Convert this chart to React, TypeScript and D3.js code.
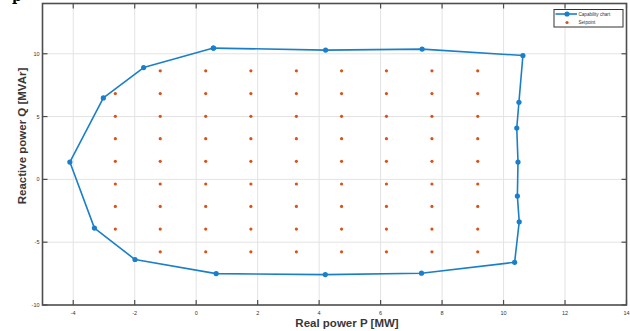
import React from "react";
import * as d3 from "d3";

// capability chart outline (P in MW, Q in MVAr), closed polygon
const capP = [0.56, 4.21, 7.35, 10.63, 10.5, 10.43, 10.47, 10.45, 10.51, 10.36, 7.33, 4.2, 0.65, -1.99, -3.31, -4.11, -3.02, -1.71, 0.56];
const capQ = [10.45, 10.29, 10.37, 9.86, 6.14, 4.09, 1.38, -1.33, -3.38, -6.6, -7.47, -7.58, -7.5, -6.38, -3.88, 1.38, 6.48, 8.9, 10.45];

// setpoint grid
const setpointP = [-2.63, -1.17, 0.31, 1.78, 3.26, 4.73, 6.19, 7.67, 9.16];
const setpointQ = [8.64, 6.83, 5.02, 3.24, 1.44, -0.37, -2.15, -3.96, -5.77];
const firstColumnQ = [6.83, 5.02, 3.24, 1.44, -0.37, -2.15, -3.96];

const xTicks = [-4, -2, 0, 2, 4, 6, 8, 10, 12, 14];
const yTicks = [-10, -5, 0, 5, 10];

const W = 630, H = 331;
const blue = "#1a7fca";
const orange = "#D95319";
const axisColor = "#4d4d4d";

export default function App() {
    const x = d3.scaleLinear().domain([-5, 14]).range([42.5, 626.5]);
    const y = d3.scaleLinear().domain([-10, 14]).range([305, 3.5]);

    const capData = capP.map((p, i) => ({ p, q: capQ[i] }));
    const line = d3.line<{ p: number, q: number }>()
        .x(d => x(d.p))
        .y(d => y(d.q));

    const setpoints: { p: number, q: number }[] = [];
    setpointP.forEach((p, i) => {
        const rows = i === 0 ? firstColumnQ : setpointQ;
        rows.forEach(q => setpoints.push({ p, q }));
    });

    const [x0, x1] = x.range();
    const [y0, y1] = y.range();
    const tickLen = 5;

    return (
        <svg width={W} height={H} style={{ position: "absolute", left: 0, top: 0, background: "#fff" }}
            fontFamily="Liberation Sans, Arial, sans-serif">
            <text x={12} y={1} fontSize={14} fontFamily="DejaVu Serif" fontWeight="bold">p</text>
            {/* grid */}
            {xTicks.filter(t => t < 14).map(t => (
                <line key={"gx" + t} x1={x(t)} x2={x(t)} y1={y0} y2={y1} stroke="#e3e3e3" strokeWidth={1} />
            ))}
            {yTicks.filter(t => t > -10).map(t => (
                <line key={"gy" + t} x1={x0} x2={x1} y1={y(t)} y2={y(t)} stroke="#e3e3e3" strokeWidth={1} />
            ))}

            {/* setpoints */}
            {setpoints.map((d, i) => (
                <circle key={"s" + i} cx={x(d.p)} cy={y(d.q)} r={1.6} fill={orange} />
            ))}

            {/* capability chart */}
            <path d={line(capData) || ""} fill="none" stroke={blue} strokeWidth={1.6} strokeLinejoin="round" />
            {capData.map((d, i) => (
                <circle key={"c" + i} cx={x(d.p)} cy={y(d.q)} r={2.6} fill={blue} />
            ))}

            {/* axes box and ticks */}
            <rect x={x0} y={y1} width={x1 - x0} height={y0 - y1} fill="none" stroke={axisColor} strokeWidth={1.6} />
            {xTicks.map(t => (
                <g key={"tx" + t}>
                    <line x1={x(t)} x2={x(t)} y1={y0} y2={y0 - tickLen} stroke={axisColor} strokeWidth={1.2} />
                    <line x1={x(t)} x2={x(t)} y1={y1} y2={y1 + tickLen} stroke={axisColor} strokeWidth={1.2} />
                    <text x={x(t)} y={y0 + 9.5} fontSize={5.5} textAnchor="middle" fill="#333">{t}</text>
                </g>
            ))}
            {yTicks.map(t => (
                <g key={"ty" + t}>
                    <line x1={x0} x2={x0 + tickLen} y1={y(t)} y2={y(t)} stroke={axisColor} strokeWidth={1.2} />
                    <line x1={x1} x2={x1 - tickLen} y1={y(t)} y2={y(t)} stroke={axisColor} strokeWidth={1.2} />
                    <text x={x0 - 3} y={y(t) + 2} fontSize={5.5} textAnchor="end" fill="#333">{t}</text>
                </g>
            ))}

            {/* axis labels */}
            <text x={347} y={326.5} fontSize={11.5} fontWeight="bold" textAnchor="middle" fill="#383838">Real power P [MW]</text>
            <text transform={`translate(26,136) rotate(-90)`} fontSize={11.5} fontWeight="bold" textAnchor="middle" fill="#383838">Reactive power Q [MVAr]</text>

            {/* legend */}
            <g>
                <rect x={554} y={9.5} width={69} height={17.5} fill="#fff" stroke="#333" strokeWidth={1} />
                <line x1={555.5} x2={577} y1={14} y2={14} stroke={blue} strokeWidth={1.6} />
                <circle cx={567} cy={14} r={2.6} fill={blue} />
                <text x={578.5} y={15.6} fontSize={4.6} fill="#333">Capability chart</text>
                <circle cx={567} cy={22.5} r={1.6} fill={orange} />
                <text x={578.5} y={24.1} fontSize={4.6} fill="#333">Setpoint</text>
            </g>
        </svg>
    );
}
